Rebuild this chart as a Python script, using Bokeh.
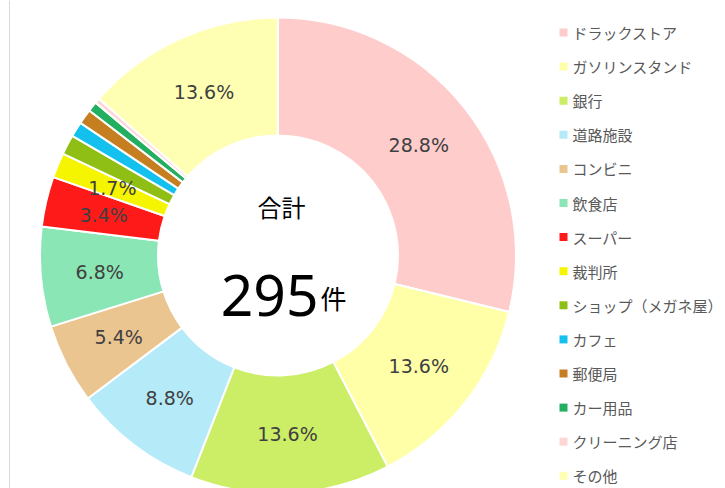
import math
from bokeh.plotting import figure
from bokeh.models import Range1d, ColumnDataSource, Span
from bokeh.core.properties import value
from bokeh.embed import file_html
from bokeh.resources import INLINE

categories = ["ドラックストア", "ガソリンスタンド", "銀行", "道路施設", "コンビニ", "飲食店",
              "スーパー", "裁判所", "ショップ（メガネ屋）", "カフェ", "郵便局", "カー用品",
              "クリーニング店", "その他"]
counts = [85, 40, 40, 26, 16, 20, 10, 5, 4, 3, 3, 2, 1, 40]
colors = ["#FFCCCC", "#FFFFA8", "#CCEE66", "#B5EAF9", "#EBC590", "#8AE6B4",
          "#FF1A1A", "#F5F500", "#8FBF14", "#14C0EE", "#C57E20", "#22B060",
          "#FFD6D6", "#FFFFB3"]
total_label = "合計"
total_value = "295"
unit = "件"

W, H = 725, 488
total = sum(counts)

def py(y):
    return H - y

cx, cy = 277.5, py(255)
r_in, r_out = 120, 238
r_lab = 179

starts, ends, lx, ly, ltxt = [], [], [], [], []
cum = 0
for c in counts:
    a0 = math.pi / 2 - 2 * math.pi * (cum + c) / total
    a1 = math.pi / 2 - 2 * math.pi * cum / total
    starts.append(a0)
    ends.append(a1)
    pct = c / total * 100
    if pct >= 1.65:
        mid = math.pi / 2 - 2 * math.pi * (cum + c / 2) / total
        lx.append(cx + r_lab * math.cos(mid))
        ly.append(cy + r_lab * math.sin(mid))
        ltxt.append(f"{pct:.1f}%")
    cum += c

p = figure(width=W, height=H, x_range=Range1d(0, W), y_range=Range1d(0, H),
           output_backend="svg", toolbar_location=None,
           x_axis_location=None, y_axis_location=None, min_border=0)
p.grid.visible = False
p.outline_line_color = None
p.background_fill_color = "white"

p.add_layout(Span(location=9, dimension="height", line_color="#D9D9D9", line_width=1))

src = ColumnDataSource(dict(start=starts, end=ends, color=colors, cat=categories))
p.annular_wedge(x=cx, y=cy, inner_radius=r_in, outer_radius=r_out,
                start_angle="start", end_angle="end", fill_color="color",
                line_color="white", line_width=2, source=src)

p.text(x=lx, y=ly, text=ltxt, text_font=value("DejaVu Sans"), text_font_size="19px",
       text_color="#404040", text_align="center", text_baseline="middle")

# center text
p.text(x=[281], y=[py(206)], text=[total_label], text_font=value("Noto Sans CJK JP"),
       text_font_size="24px", text_color="#000000", text_align="center", text_baseline="middle")
p.text(x=[318], y=[py(295)], text=[total_value], text_font=value("Noto Sans"),
       text_font_size="57px", text_color="#000000", text_align="right", text_baseline="alphabetic")
p.text(x=[320], y=[py(297)], text=[unit], text_font=value("Noto Sans CJK JP"),
       text_font_size="26px", text_color="#000000", text_align="left", text_baseline="alphabetic")

# legend
row0, step = 32, 34.1
leg_y = [py(row0 + i * step) for i in range(len(categories))]
p.rect(x=[563] * len(categories), y=leg_y, width=8, height=8, fill_color=colors, line_color=None)
p.text(x=[572] * len(categories), y=leg_y, text=categories, text_font=value("Noto Sans CJK JP"),
       text_font_size="15px", text_color="#595959", text_align="left", text_baseline="middle")

open("out.html", "w").write(file_html(p, INLINE))
